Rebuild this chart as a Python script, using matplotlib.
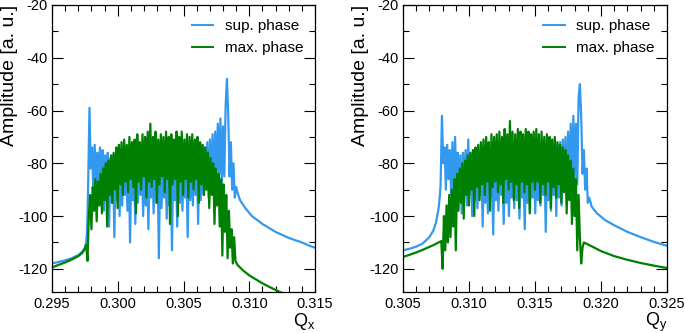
import numpy as np
import matplotlib
matplotlib.use("Agg")
import matplotlib.pyplot as plt
from matplotlib.ticker import MultipleLocator

plt.rcParams['font.family'] = ['Liberation Sans', 'DejaVu Sans']
plt.rcParams['mathtext.default'] = 'regular'

BLUE = '#3399ee'
GREEN = '#008000'
labels = ["sup. phase", "max. phase"]

# ---------------- Left panel (Q_x) ----------------
qx_blue_left_q = [0.2950, 0.2955, 0.2960, 0.2965, 0.2970, 0.2973, 0.2975, 0.2976, 0.29765, 0.2977]
qx_blue_left_a = [-118.0, -117.4, -116.8, -116.0, -114.8, -113.5, -112.0, -110.0, -107.0, -100.0]
qx_blue_noise_range = (0.29775, 0.30910)
qx_blue_noise = [
    -88, -59, -82, -74, -92, -73, -88, -76, -95, -74,
    -90, -75, -98, -77, -92, -76, -104, -78, -95, -77,
    -108, -78, -94, -79, -100, -80, -96, -78, -92, -80,
    -98, -79, -110, -80, -94, -81, -103, -80, -95, -79,
    -92, -80, -100, -79, -96, -78, -105, -80, -93, -79,
    -99, -80, -95, -79, -116, -80, -97, -81, -93, -80,
    -101, -79, -96, -80, -113, -79, -94, -80, -104, -79,
    -95, -80, -98, -79, -93, -80, -108, -79, -94, -78,
    -96, -77, -92, -78, -103, -76, -94, -75, -92, -74,
    -90, -72, -93, -71, -88, -69, -92, -68, -86, -65,
    -84, -63, -88, -66, -85, -58, -48, -62, -85, -72,
    -90, -80, -93, -89, -91,
]
qx_blue_right_q = [0.3093, 0.3097, 0.3102, 0.3110, 0.3120, 0.3130, 0.3140, 0.3146, 0.3150]
qx_blue_right_a = [-94.0, -97.0, -100.0, -103.0, -106.0, -108.3, -110.0, -111.3, -112.0]

qx_green_left_q = [0.2950, 0.2955, 0.2960, 0.2965, 0.2970, 0.2973, 0.2975, 0.2976]
qx_green_left_a = [-119.5, -118.5, -117.6, -116.5, -115.2, -114.0, -112.5, -111.0]
qx_green_noise_range = (0.29770, 0.30895)
qx_green_noise = [
    -117, -100, -92, -105, -89, -98, -86, -102, -87, -96,
    -84, -99, -82, -94, -80, -104, -79, -92, -77, -95,
    -76, -90, -74, -97, -73, -88, -72, -92, -71, -87,
    -73, -91, -70, -86, -72, -89, -71, -99, -69, -87,
    -72, -90, -69, -85, -70, -93, -68, -87, -65, -89,
    -70, -86, -68, -95, -71, -88, -69, -85, -70, -91,
    -68, -86, -70, -103, -69, -88, -71, -86, -68, -100,
    -70, -87, -68, -92, -71, -86, -69, -93, -70, -87,
    -69, -90, -71, -86, -70, -95, -72, -88, -73, -92,
    -74, -90, -76, -97, -78, -92, -80, -103, -82, -96,
    -84, -104, -86, -115, -88, -106, -92, -116, -98, -112,
    -105, -118, -108, -117,
]
qx_green_right_q = [0.3091, 0.3095, 0.3100, 0.3105, 0.3110, 0.3115, 0.3120, 0.3125, 0.3130, 0.3150]
qx_green_right_a = [-118.5, -120.5, -122.5, -124.0, -125.5, -126.8, -128.0, -129.2, -130.3, -133.0]

# ---------------- Right panel (Q_y) ----------------
qy_blue_left_q = [0.3050, 0.3055, 0.3060, 0.3065, 0.3070, 0.3073, 0.3075, 0.3077, 0.3078]
qy_blue_left_a = [-113.0, -112.4, -111.6, -110.4, -108.0, -105.5, -102.5, -97.0, -92.0]
qy_blue_noise_range = (0.30785, 0.31900)
qy_blue_noise = [
    -88, -62, -80, -74, -90, -73, -86, -75, -92, -72,
    -95, -70, -88, -76, -94, -77, -99, -76, -90, -75,
    -96, -71, -92, -77, -100, -78, -94, -79, -97, -80,
    -92, -79, -104, -80, -95, -81, -99, -80, -93, -81,
    -107, -80, -94, -81, -98, -80, -92, -82, -103, -80,
    -95, -81, -100, -80, -93, -81, -97, -80, -94, -82,
    -101, -80, -93, -81, -105, -80, -95, -79, -98, -80,
    -93, -79, -99, -80, -94, -79, -96, -78, -92, -79,
    -106, -77, -94, -76, -98, -75, -92, -74, -100, -73,
    -93, -72, -96, -71, -90, -70, -94, -68, -88, -65,
    -90, -62, -86, -65, -88, -55, -50, -63, -84, -75,
    -90, -82, -95,
]
qy_blue_right_q = [0.3191, 0.3193, 0.3197, 0.3203, 0.3210, 0.3220, 0.3230, 0.3240, 0.3250]
qy_blue_right_a = [-93.0, -96.5, -99.0, -101.5, -103.5, -106.0, -108.0, -109.8, -111.3]

qy_green_left_q = [0.3050, 0.3055, 0.3060, 0.3065, 0.3070, 0.3074, 0.3077, 0.30790]
qy_green_left_a = [-115.5, -114.7, -113.8, -112.8, -111.7, -110.8, -110.0, -109.5]
qy_green_noise_range = (0.30800, 0.31870)
qy_green_noise = [
    -120, -100, -113, -96, -110, -92, -108, -90, -104, -86,
    -113, -84, -98, -82, -95, -80, -101, -79, -92, -77,
    -96, -76, -90, -75, -100, -74, -89, -73, -94, -72,
    -88, -71, -92, -70, -87, -72, -98, -69, -89, -70,
    -87, -69, -91, -68, -88, -70, -95, -67, -86, -69,
    -90, -64, -87, -68, -94, -69, -88, -67, -97, -68,
    -87, -69, -91, -67, -88, -68, -99, -69, -87, -68,
    -90, -67, -87, -69, -95, -68, -88, -70, -92, -69,
    -87, -70, -97, -71, -89, -70, -93, -72, -88, -73,
    -95, -74, -91, -75, -99, -77, -94, -79, -103, -82,
    -100, -86, -113, -92, -108, -118, -112, -110,
]
qy_green_right_q = [0.3189, 0.3195, 0.3200, 0.3210, 0.3220, 0.3230, 0.3240, 0.3250]
qy_green_right_a = [-110.5, -112.0, -113.3, -115.2, -116.6, -117.8, -118.8, -119.7]


def series(lq, la, rng, noise, rq, ra):
    nq = np.linspace(rng[0], rng[1], len(noise))
    q = np.concatenate([lq, nq, rq])
    a = np.concatenate([la, noise, ra])
    return q, a


W, H = 685, 333
fig = plt.figure(figsize=(W / 100, H / 100), dpi=100)

panels = [
    dict(rect=[52 / W, 41 / H, 263 / W, 287 / H], xlim=(0.295, 0.315),
         xlabel=r'Q$_{\mathregular{x}}$',
         blue=series(qx_blue_left_q, qx_blue_left_a, qx_blue_noise_range, qx_blue_noise,
                     qx_blue_right_q, qx_blue_right_a),
         green=series(qx_green_left_q, qx_green_left_a, qx_green_noise_range, qx_green_noise,
                      qx_green_right_q, qx_green_right_a)),
    dict(rect=[403 / W, 41 / H, 264 / W, 287 / H], xlim=(0.305, 0.325),
         xlabel=r'Q$_{\mathregular{y}}$',
         blue=series(qy_blue_left_q, qy_blue_left_a, qy_blue_noise_range, qy_blue_noise,
                     qy_blue_right_q, qy_blue_right_a),
         green=series(qy_green_left_q, qy_green_left_a, qy_green_noise_range, qy_green_noise,
                      qy_green_right_q, qy_green_right_a)),
]

for p in panels:
    ax = fig.add_axes(p['rect'])
    bq, ba = p['blue']
    gq, ga = p['green']
    ax.plot(bq, ba, color=BLUE, lw=1.6, label=labels[0])
    ax.plot(gq, ga, color=GREEN, lw=1.6, label=labels[1])
    ax.set_xlim(*p['xlim'])
    ax.set_ylim(-128.8, -20)
    ax.xaxis.set_major_locator(MultipleLocator(0.005))
    ax.xaxis.set_minor_locator(MultipleLocator(0.001))
    ax.yaxis.set_major_locator(MultipleLocator(20))
    ax.yaxis.set_minor_locator(MultipleLocator(10))
    ax.xaxis.set_major_formatter(matplotlib.ticker.FormatStrFormatter('%.3f'))
    ax.yaxis.set_major_formatter(matplotlib.ticker.FuncFormatter(lambda v, pos: '%d' % v))
    ax.tick_params(which='both', direction='in', top=True, right=True, labelsize=10.5)
    ax.tick_params(which='major', length=8, width=0.8)
    ax.tick_params(which='minor', length=4, width=0.8)
    ax.tick_params(axis='x', pad=3.5)
    ax.tick_params(axis='y', pad=3)
    for s in ax.spines.values():
        s.set_linewidth(0.9)
    ax.set_ylabel('Amplitude [a. u.]', fontsize=14, loc='top', labelpad=0)
    ax.set_xlabel(p['xlabel'], fontsize=13, loc='right', labelpad=0)
    leg = ax.legend(loc='upper left', bbox_to_anchor=(0.532, 0.95), frameon=False,
                    fontsize=11, handlelength=1.4, handletextpad=0.75,
                    borderpad=0, borderaxespad=0, labelspacing=0.5)
    for h in leg.get_lines():
        h.set_linewidth(1.4)

fig.savefig('out.png', dpi=100)
